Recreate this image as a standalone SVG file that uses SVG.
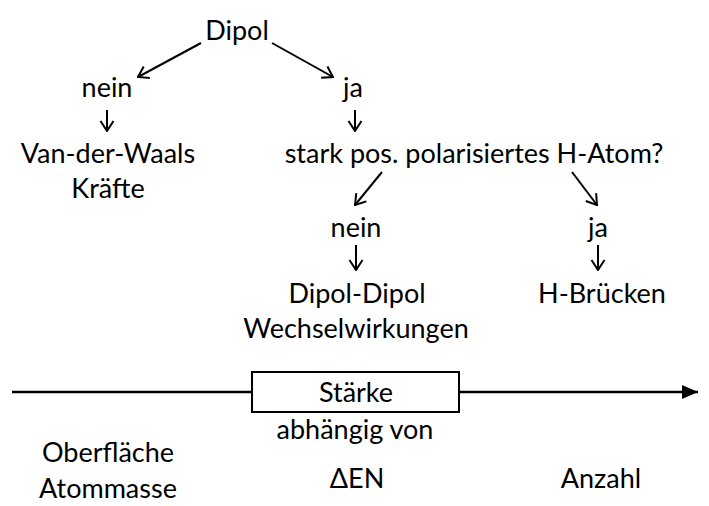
<svg xmlns="http://www.w3.org/2000/svg" width="709" height="506" viewBox="0 0 709 506">
<defs>
<marker id="chev" viewBox="0 0 12 16" refX="11" refY="8" markerWidth="12" markerHeight="16" markerUnits="userSpaceOnUse" orient="auto">
<path d="M1,1.5 L11,8 L1,14.5" fill="none" stroke="#000" stroke-width="2"/>
</marker>
<marker id="tri" viewBox="0 0 16 14" refX="16" refY="7" markerWidth="16" markerHeight="14" markerUnits="userSpaceOnUse" orient="auto">
<path d="M0,0 L16,7 L0,14 Z" fill="#000"/>
</marker>
<style>
text{font-family:Lato,"Liberation Sans",sans-serif;font-size:27px;fill:#000;text-anchor:middle}
.c{stroke:#000;stroke-width:2;fill:none;marker-end:url(#chev)}
</style>
</defs>
<rect width="709" height="506" fill="#fff"/>
<g id="connectors">
<line class="c" x1="201" y1="43" x2="138" y2="77"/>
<line class="c" x1="272" y1="43" x2="333" y2="77"/>
<line class="c" x1="107" y1="110" x2="107" y2="131"/>
<line class="c" x1="355" y1="110" x2="355" y2="131"/>
<line class="c" x1="382" y1="172" x2="355" y2="205"/>
<line class="c" x1="572" y1="172" x2="597" y2="205"/>
<line class="c" x1="356" y1="245" x2="356" y2="270"/>
<line class="c" x1="598" y1="245" x2="598" y2="270"/>
<line x1="12" y1="392" x2="698" y2="392" stroke="#000" stroke-width="2.5" marker-end="url(#tri)"/>
</g>
<g id="dipol"><text x="237" y="40">Dipol</text></g>
<g id="nein1"><text x="107" y="97">nein</text></g>
<g id="ja1"><text x="353" y="97">ja</text></g>
<g id="vdw"><text x="108" y="163">Van-der-Waals</text><text x="108" y="198">Kräfte</text></g>
<g id="hatom"><text x="474" y="163">stark pos. polarisiertes H-Atom?</text></g>
<g id="nein2"><text x="356" y="237">nein</text></g>
<g id="ja2"><text x="598" y="237">ja</text></g>
<g id="dd"><text x="357" y="303">Dipol-Dipol</text><text x="356" y="338">Wechselwirkungen</text></g>
<g id="hb"><text x="602" y="303">H-Brücken</text></g>
<g id="staerke"><rect x="252" y="372" width="207" height="40" fill="#fff" stroke="#000" stroke-width="2"/><text x="356" y="402">Stärke</text></g>
<g id="abh"><text x="355" y="439">abhängig von</text></g>
<g id="ob"><text x="108" y="462">Oberfläche</text><text x="108" y="498">Atommasse</text></g>
<g id="den"><text x="357" y="488">ΔEN</text></g>
<g id="anz"><text x="601" y="488">Anzahl</text></g>
</svg>
